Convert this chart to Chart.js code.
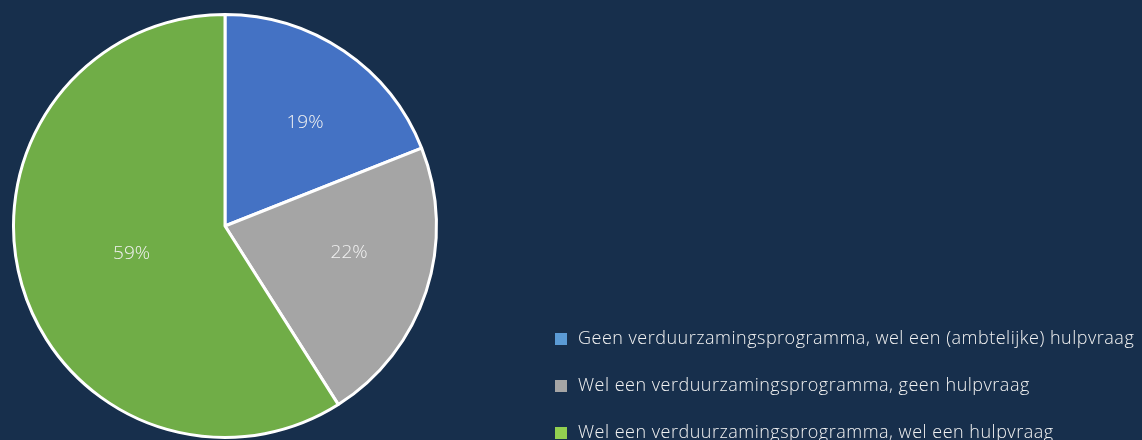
<!DOCTYPE html>
<html>
  <head>
    <style>
      html, body {
        margin: 0;
        padding: 0;
        background: #172f4c;
        overflow: hidden;
      }
      #chartContainer {
        position: relative;
        width: 1142px;
        height: 440px;
      }
      #legend {
        position: absolute;
        left: 555px;
        top: 324px;
        font-family: "Open Sans", Lato, sans-serif;
        font-weight: 300;
        font-size: 18px;
        letter-spacing: 0.5px;
        color: #f2f2f2;
      }
      .item {
        height: 47px;
        line-height: 26px;
        white-space: nowrap;
      }
      .box {
        display: inline-block;
        width: 12px;
        height: 12px;
        margin-right: 11px;
        vertical-align: -1px;
      }
    </style>
  </head>

  <body>
    <div id="chartContainer">
      <canvas id="myChart" width="1142" height="440"></canvas>
      <div id="legend"></div>
    </div>

    <script src="https://cdn.jsdelivr.net/npm/chart.js"></script>
    <script>
      const ctx = document.getElementById('myChart');

      const categories = [
        'Geen verduurzamingsprogramma, wel een (ambtelijke) hulpvraag',
        'Wel een verduurzamingsprogramma, geen hulpvraag',
        'Wel een verduurzamingsprogramma, wel een hulpvraag'
      ];
      const shares = [19, 22, 59];

      const sliceColors = ['#4472c4', '#a5a5a5', '#70ad47'];
      const legendColors = ['#5b9bd5', '#a5a5a5', '#92d050'];
      // where each percentage sits: part of the radius, and a nudge in degrees
      const labelDepth = [0.62, 0.6, 0.46];
      const labelTurn = [3.4, -6, 0];

      const percentLabels = {
        id: 'percentLabels',
        afterDatasetsDraw(chart) {
          const c = chart.ctx;
          const meta = chart.getDatasetMeta(0);
          c.save();
          c.fillStyle = '#f2f2f2';
          c.font = '300 19px "Open Sans", Lato, sans-serif';
          c.textAlign = 'center';
          c.textBaseline = 'middle';
          meta.data.forEach((arc, i) => {
            const mid = (arc.startAngle + arc.endAngle) / 2 + labelTurn[i] * Math.PI / 180;
            const r = arc.outerRadius * labelDepth[i];
            const x = arc.x + Math.cos(mid) * r;
            const y = arc.y + Math.sin(mid) * r;
            c.fillText(shares[i] + '%', x, y);
          });
          c.restore();
        }
      };

      const pieChart = new Chart(ctx, {
        type: 'pie',
        data: {
          labels: categories,
          datasets: [{
            data: shares,
            backgroundColor: sliceColors,
            borderColor: '#ffffff',
            borderWidth: 3
          }]
        },
        options: {
          responsive: false,
          animation: false,
          layout: {
            padding: { left: 12, right: 704, top: 13, bottom: 1 }
          },
          plugins: {
            legend: { display: false },
            tooltip: { enabled: false }
          }
        },
        plugins: [percentLabels]
      });

      const legend = document.getElementById('legend');
      categories.forEach((name, i) => {
        const row = document.createElement('div');
        row.className = 'item';
        const box = document.createElement('span');
        box.className = 'box';
        box.style.background = legendColors[i];
        row.appendChild(box);
        row.appendChild(document.createTextNode(name));
        legend.appendChild(row);
      });
    </script>
  </body>
</html>
